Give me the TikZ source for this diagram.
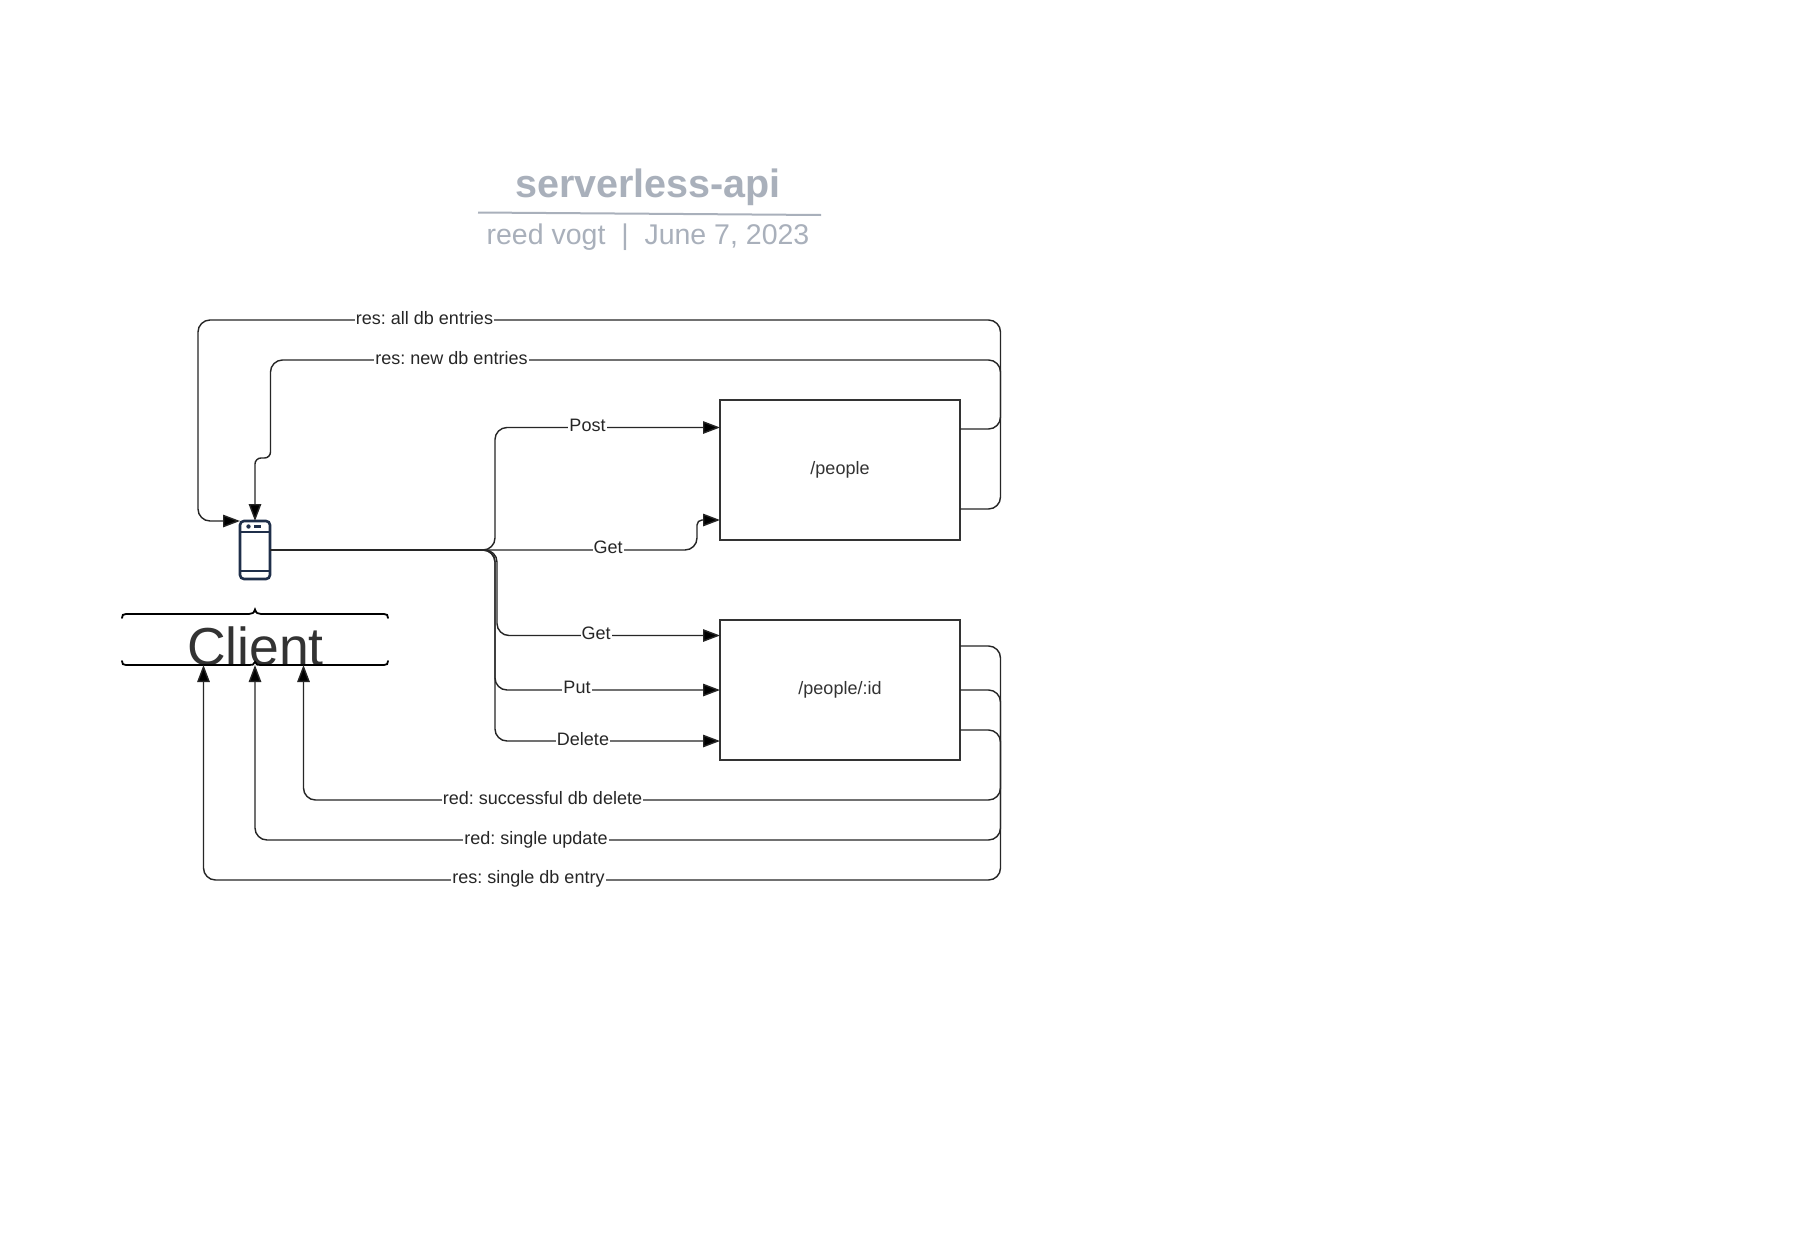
\documentclass[tikz,border=0pt]{standalone}
\usepackage{fontspec}
\setmainfont{Liberation Sans}
\usetikzlibrary{arrows.meta}
\definecolor{titlegrey}{HTML}{A9B0BB}
\definecolor{inkgrey}{HTML}{333333}
\definecolor{phoneblue}{HTML}{1F2F4A}
\frenchspacing
\tikzset{
  x=1pt,y=-1pt,
  conn/.style={draw=black!85,line width=1.4pt,rounded corners=12pt},
  arr/.style={conn,-{Triangle[length=17pt,width=12.5pt,fill=black]}},
  boxnode/.style={draw=inkgrey,line width=2.2pt,fill=white,minimum width=240pt,minimum height=140pt,outer sep=0pt,font=\fontsize{18}{20}\selectfont,text=inkgrey},
  lab/.style={fill=white,inner sep=1pt,font=\fontsize{18}{20}\selectfont,text=black!85},
  phonepart/.style={draw=phoneblue,line width=2.6pt},
  bracepart/.style={draw=black,line width=1.8pt,line cap=round}
}
\begin{document}
\begin{tikzpicture}
\useasboundingbox[fill=white] (0,0) rectangle (1807,1245);
% title
\node[text=titlegrey,font=\bfseries\fontsize{39.5}{42}\selectfont,anchor=base] (title) at (648,197) {serverless-api};
\node[text=titlegrey,font=\fontsize{28.5}{32}\selectfont,anchor=base] (sub) at (648,244.5) {reed vogt\ \ |\ \ June 7, 2023};
\draw[titlegrey,line width=2pt] (478,212.5) -- (821,215);
% boxes
\node[boxnode] (people) at (840,470) {\raisebox{2.5pt}{/people}};
\node[boxnode] (peopleid) at (840,690) {\raisebox{0.5pt}{/people/:id}};
% phone
\node[minimum width=30pt,minimum height=58pt,inner sep=0pt,outer sep=0pt] (phone) at (255,550) {};
\draw[phonepart,rounded corners=4pt] (phone.south west) rectangle (phone.north east);
\draw[phonepart,line width=2.2pt] (240,532) -- (270,532) (240,571) -- (270,571);
\fill[phoneblue] (248.5,526.5) circle (2.2pt);
\draw[phoneblue,line width=2.2pt] (254,526.5) -- (261,526.5);
% client brace
\node[inner sep=0pt,text=inkgrey,font=\fontsize{53.5}{56}\selectfont,anchor=base] (client) at (255.5,665) {Client};
\draw[bracepart] (122,618) .. controls (122,615) and (123,614) .. (126,614) -- (249,614) .. controls (252,614) and (254,613) .. (255,609.5) .. controls (256,613) and (258,614) .. (261,614) -- (384,614) .. controls (387,614) and (388,615) .. (388,618);
\draw[bracepart] (122,661) .. controls (122,664) and (123,665) .. (126,665) -- (249,665) .. controls (252,665) and (254,665) .. (255,662) .. controls (256,665) and (258,665) .. (261,665) -- (384,665) .. controls (387,665) and (388,664) .. (388,661);
\coordinate (clientL) at (203.5,665);
\coordinate (clientM) at (255,665);
\coordinate (clientR) at (303.5,665);
% requests
\draw[arr] (phone.east) -- (495,550) -- (495,427.5) -- (people.west |- 0,427.5);
\draw[arr] (phone.east) -- (697,550) [rounded corners=5pt] -- (697,520) -- (people.west |- 0,520);
\draw[arr] (phone.east) -- (497,550) -- (497,635.5) -- (peopleid.west |- 0,635.5);
\draw[arr] (phone.east) -- (495,550) -- (495,690) -- (peopleid.west |- 0,690);
\draw[arr] (phone.east) -- (495,550) -- (495,741) -- (peopleid.west |- 0,741);
% responses people
\draw[arr] (people.east |- 0,509) -- (1000.5,509) -- (1000.5,320) -- (198,320) -- (198,521) -- (phone.north west |- 0,521);
\draw[arr] (people.east |- 0,429) -- (1000.5,429) -- (1000.5,360) -- (270.5,360) [rounded corners=6pt] -- (270.5,458) -- (255,458) -- (phone.north);
% responses people/:id
\draw[arr] (peopleid.east |- 0,730) -- (1000.5,730) -- (1000.5,800) -- (303.5,800) -- (clientR);
\draw[arr] (peopleid.east |- 0,690) -- (1000.5,690) -- (1000.5,840) -- (255,840) -- (clientM);
\draw[arr] (peopleid.east |- 0,646) -- (1000.5,646) -- (1000.5,880) -- (203.5,880) -- (clientL);
% labels
\node[lab] (l1) at (424.5,318) {res: all db entries};
\node[lab] (l2) at (451.5,358) {res: new db entries};
\node[lab] (l3) at (587.5,425) {Post};
\node[lab] (l4) at (608,547.5) {Get};
\node[lab] (l5) at (596,633) {Get};
\node[lab] (l6) at (577,687.5) {Put};
\node[lab] (l7) at (583,739) {Delete};
\node[lab] (l8) at (542.5,798) {red: successful db delete};
\node[lab] (l9) at (536,840) {red: single update};
\node[lab] (l10) at (528.5,878.5) {res: single db entry};
\end{tikzpicture}
\end{document}
